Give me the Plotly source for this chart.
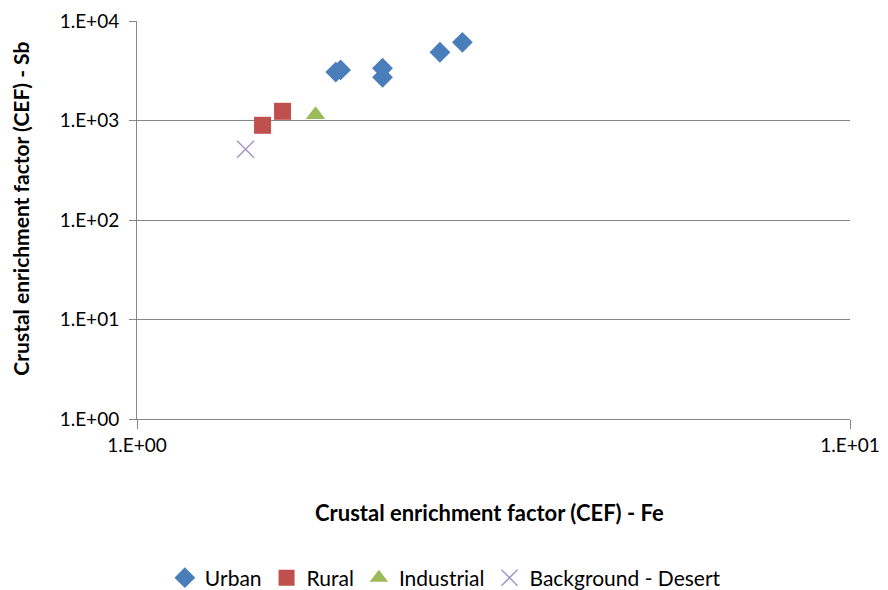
import plotly.graph_objects as go

# Data
urban_fe = [1.90, 1.93, 2.21, 2.21, 2.66, 2.86]
urban_sb = [3070, 3220, 3350, 2720, 4850, 6110]
rural_fe = [1.50, 1.60]
rural_sb = [895, 1237]
industrial_fe = [1.78]
industrial_sb = [1143]
desert_fe = [1.42]
desert_sb = [513]

x_tickvals = [1, 10]
x_ticktext = ["1.E+00", "1.E+01"]
y_tickvals = [1, 10, 100, 1000, 10000]
y_ticktext = ["1.E+00", "1.E+01", "1.E+02", "1.E+03", "1.E+04"]

FONT = "Lato, 'Open Sans', sans-serif"

fig = go.Figure()
fig.add_trace(go.Scatter(x=urban_fe, y=urban_sb, mode="markers", name="Urban",
                         marker=dict(symbol="diamond", size=16, color="#4A7EBB")))
fig.add_trace(go.Scatter(x=rural_fe, y=rural_sb, mode="markers", name="Rural",
                         marker=dict(symbol="square", size=17, color="#C0504D")))
fig.add_trace(go.Scatter(x=industrial_fe, y=industrial_sb, mode="markers", name="Industrial",
                         marker=dict(symbol="triangle-up", size=17, color="#9BBB59")))
fig.add_trace(go.Scatter(x=desert_fe, y=desert_sb, mode="markers", name="Background - Desert",
                         marker=dict(symbol="x-thin-open", size=17,
                                     line=dict(color="#A397C6", width=1.5), color="#A397C6")))

axis_common = dict(type="log", showline=True, linecolor="#868686", linewidth=1,
                   ticks="outside", tickcolor="#868686",
                   tickfont=dict(family=FONT, size=19, color="#000000"),
                   zeroline=False, automargin=False)

fig.update_xaxes(range=[0, 1], tickvals=x_tickvals, ticktext=x_ticktext,
                 showgrid=False, ticklen=9, ticklabelstandoff=0, **axis_common)
fig.update_yaxes(range=[0, 4], tickvals=y_tickvals, ticktext=y_ticktext,
                 showgrid=True, gridcolor="#868686", gridwidth=1,
                 ticklen=7, ticklabelstandoff=6, **axis_common)

fig.add_annotation(text="<b>Crustal enrichment factor (CEF) - Fe</b>",
                   xref="paper", yref="paper", x=0.494, y=-0.236,
                   xanchor="center", yanchor="middle",
                   showarrow=False, font=dict(family=FONT, size=22, color="#000000"))
fig.add_annotation(text="<b>Crustal enrichment factor (CEF) - Sb</b>",
                   xref="paper", yref="paper", x=-0.163, y=0.528, textangle=-90,
                   xanchor="center", yanchor="middle",
                   showarrow=False, font=dict(family=FONT, size=21, color="#000000"))

fig.update_layout(
    width=880, height=582,
    margin=dict(l=129, r=38, t=13, b=171, autoexpand=False),
    paper_bgcolor="white", plot_bgcolor="white",
    showlegend=True,
    legend=dict(orientation="h", xref="container", yref="container",
                x=0.497, xanchor="center", y=0.0206, yanchor="middle",
                font=dict(family=FONT, size=21, color="#000000"),
                itemwidth=30, tracegroupgap=0),
)

fig.write_html("out.html")
